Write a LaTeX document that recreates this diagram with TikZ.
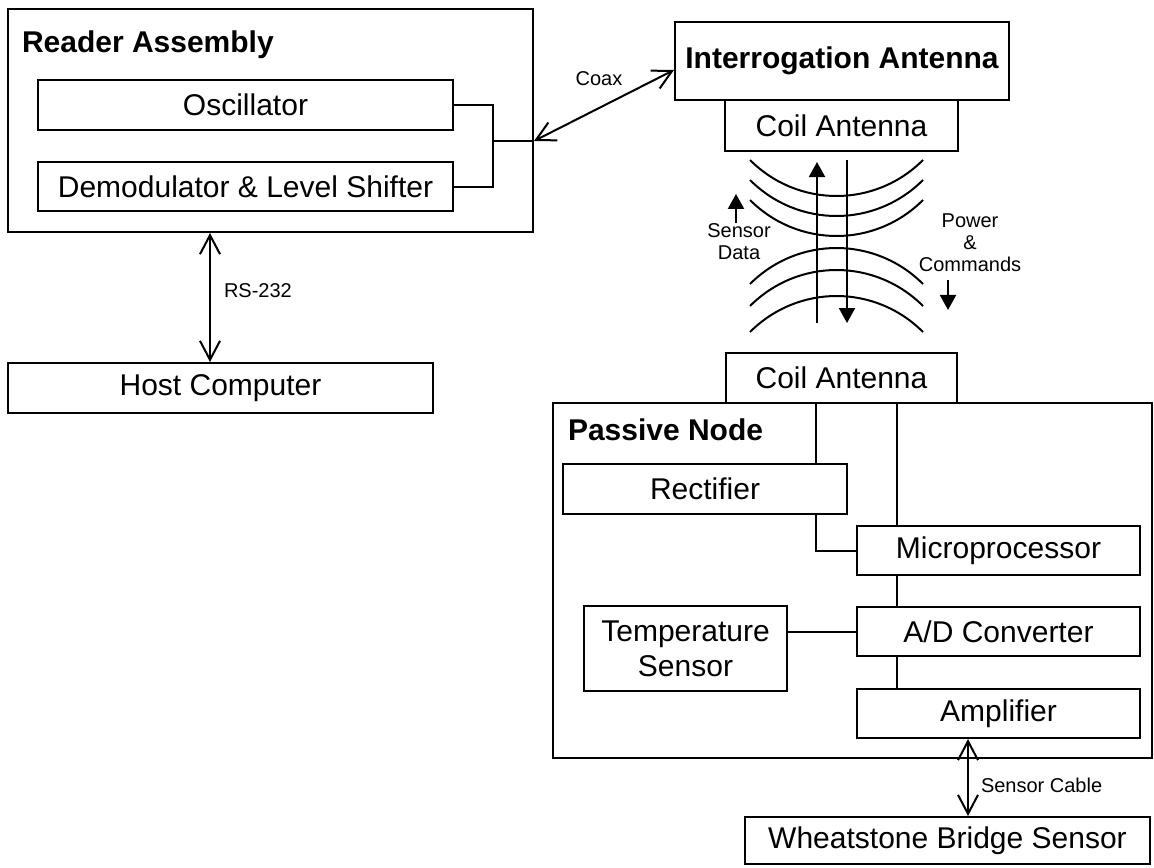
\documentclass[tikz,border=0pt]{standalone}
\usepackage{fontspec}
\setmainfont{Liberation Sans}
\usetikzlibrary{arrows.meta}
\newcommand{\blocksize}{\fontsize{15}{17.5}\selectfont}
\newcommand{\notesize}{\fontsize{10}{11}\selectfont}

\begin{document}
\begin{tikzpicture}[x=0.5pt,y=-0.5pt,line width=1pt,
   block/.style={draw,inner sep=0pt,align=center,font=\blocksize},
   group/.style={draw,inner sep=0pt},
   heading/.style={anchor=west,inner sep=0pt,font=\blocksize\bfseries},
   note/.style={inner sep=0pt,align=center,font=\notesize},
   sz/.style 2 args={minimum width=#1*0.5pt,minimum height=#2*0.5pt},
   link/.style={<->,>={Straight Barb[length=9.5pt,width=10pt]}},
   flow/.style={-{Triangle[length=7.5pt,width=8pt]}}]
   \useasboundingbox (0,0) rectangle (1154,867);
   \node[group,sz={525}{223}] (reader) at (270.5,120.5) {};
   \node[heading] (readertitle) at (21,45) {Reader Assembly};
   \node[block,sz={415}{50}] (osc) at (245.5,105) {Oscillator};
   \node[block,sz={415}{49}] (demod) at (245.5,186.5) {Demodulator \& Level Shifter};
   \node[block,sz={425}{50}] (host) at (220.5,388) {Host Computer};
   \node[block,sz={334}{78},font=\blocksize\bfseries] (interrog) at (842,61) {Interrogation Antenna};
   \node[block,sz={233}{51}] (coiltop) at (841.5,125.5) {Coil Antenna};
   \node[block,sz={231}{50}] (coilbot) at (841.5,378) {Coil Antenna};
   \node[group,sz={599}{355}] (passive) at (852.5,580.5) {};
   \node[heading] (passivetitle) at (567,430) {Passive Node};
   \node[block,sz={284}{50}] (rect) at (705,489) {Rectifier};
   \node[block,sz={283}{49}] (micro) at (998.5,550.5) {Microprocessor};
   \node[block,sz={283}{49}] (adc) at (998.5,631.5) {A/D Converter};
   \node[block,sz={283}{49}] (amp) at (998.5,713.5) {Amplifier};
   \node[block,sz={203}{85}] (temp) at (685.5,648.5) {Temperature\\Sensor};
   \node[block,sz={405}{47}] (wheat) at (947.5,840.5) {Wheatstone Bridge Sensor};

   \coordinate (rj) at (493,141);
   \draw (osc.east) -| (rj) |- (demod.east);
   \draw (rj) -- (rj -| reader.east);
   \draw[link] (rj -| reader.east) -- ([yshift=-4.5pt]interrog.west);
   \node[note] (coax) at (599,79) {Coax};

   \coordinate (rsx) at (210,0);
   \path[link] (rsx |- reader.south) edge (rsx |- host.north);
   \node[note,anchor=west] (rs) at (223,291) {RS-232};

   \foreach \y in {160,180,200}
      \draw (750,\y) .. controls (798,\y+48) and (875,\y+48) .. (923,\y);
   \foreach \y in {284,306,332}
      \draw (750,\y) .. controls (798,\y-48) and (875,\y-48) .. (923,\y);
   \draw[flow] (817,323) -- (817,162);
   \draw[flow] (847,160) -- (847,323);
   \node[note] (sensordata) at (739,242) {Sensor\\Data};
   \draw[flow] ([xshift=-1.5pt]sensordata.north) -- ++(0,-29);
   \node[note] (powercmd) at (970,243) {Power\\\&\\Commands};
   \draw[flow] ([xshift=-11pt,yshift=-3.5pt]powercmd.south) -- ++(0,30);

   \coordinate (tapa) at (816,0);
   \coordinate (tapb) at (897,0);
   \draw (tapa |- coilbot.south) -- (tapa |- rect.north);
   \draw (tapa |- rect.south) |- (micro.west);
   \draw (tapb |- coilbot.south) -- (tapb |- micro.north);
   \draw (tapb |- micro.south) -- (tapb |- adc.north);
   \draw (tapb |- adc.south) -- (tapb |- amp.north);
   \draw (adc.west) -- (adc.west -| temp.east);

   \coordinate (cab) at (968,0);
   \path[link] (cab |- amp.south) edge (cab |- wheat.north);
   \node[note,anchor=west] (cable) at (980,785) {Sensor Cable};
\end{tikzpicture}
\end{document}
